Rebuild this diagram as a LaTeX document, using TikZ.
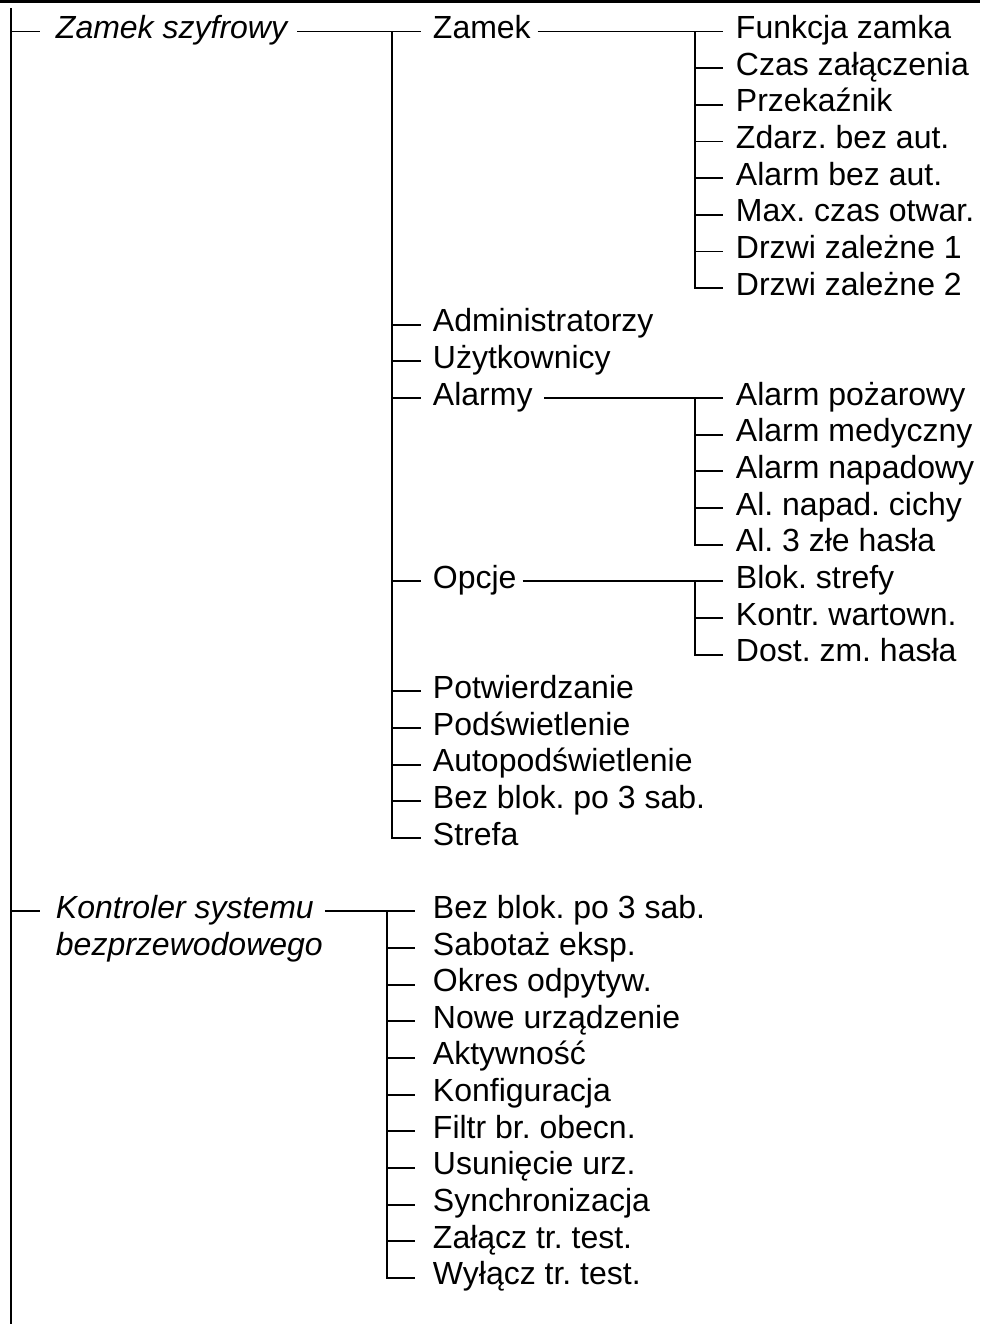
\documentclass[tikz,border=0pt]{standalone}
\usepackage{fontspec}
\setmainfont{Liberation Sans}
\frenchspacing
\begin{document}
\begin{tikzpicture}[x=1pt,y=1pt,line width=1.9pt,
  lbl/.style={anchor=base west,inner sep=0pt,text height=21pt,text depth=7pt,font=\fontsize{32}{36}\selectfont},
  itlbl/.style={lbl,font=\fontsize{32}{36}\selectfont\itshape}]
\useasboundingbox (0,0) rectangle (980,-1324);
\fill (0,0) rectangle (980,-3);
% level 1
\node[itlbl] (zs) at (55,-38.5) {Zamek szyfrowy};
\node[itlbl] (ks1) at (55,{-38.5-36.66*24}) {Kontroler systemu};
\node[itlbl] (ks2) at (55,{-38.5-36.66*25}) {bezprzewodowego};
\coordinate (top) at (11,-8);
\coordinate (bot) at (11,-1324);
\draw (top) -- (bot);
\draw (top |- zs.west) -- ([xshift=-15pt]zs.west);
\draw (top |- ks1.west) -- ([xshift=-15pt]ks1.west);
% level 2, Zamek szyfrowy
\foreach \n/\r/\t in {za/0/Zamek,ad/8/Administratorzy,uz/9/Użytkownicy,al/10/Alarmy,op/15/Opcje,pt/18/Potwierdzanie,pd/19/Podświetlenie,ap/20/Autopodświetlenie,bb/21/Bez blok. po 3 sab.,st/22/Strefa}
  \node[lbl] (\n) at (432,{-38.5-36.66*\r}) {\t};
\coordinate (v2) at (392,0);
\draw ([xshift=9pt]zs.east) -- ([xshift=-11pt]za.west);
\draw (v2 |- za.west) -- (v2 |- st.west) -- ([xshift=-11pt]st.west);
\foreach \n in {ad,uz,al,op,pt,pd,ap,bb}
  \draw (v2 |- \n.west) -- ([xshift=-11pt]\n.west);
% level 3
\coordinate (v3) at (695,0);
\foreach \n/\r/\t in {f1/0/Funkcja zamka,f2/1/Czas załączenia,f3/2/Przekaźnik,f4/3/Zdarz. bez aut.,f5/4/Alarm bez aut.,f6/5/Max. czas otwar.,f7/6/Drzwi zależne 1,f8/7/Drzwi zależne 2,
  a1/10/Alarm pożarowy,a2/11/Alarm medyczny,a3/12/Alarm napadowy,a4/13/Al. napad. cichy,a5/14/Al. 3 złe hasła,
  o1/15/Blok. strefy,o2/16/Kontr. wartown.,o3/17/Dost. zm. hasła}
  \node[lbl] (\n) at (735,{-38.5-36.66*\r}) {\t};
\draw ([xshift=6pt]za.east) -- ([xshift=-12pt]f1.west);
\draw (v3 |- f1.west) -- (v3 |- f8.west) -- ([xshift=-12pt]f8.west);
\foreach \n in {f2,f3,f4,f5,f6,f7}
  \draw (v3 |- \n.west) -- ([xshift=-12pt]\n.west);
\draw ([xshift=11pt]al.east) -- ([xshift=-12pt]a1.west);
\draw (v3 |- a1.west) -- (v3 |- a5.west) -- ([xshift=-12pt]a5.west);
\foreach \n in {a2,a3,a4}
  \draw (v3 |- \n.west) -- ([xshift=-12pt]\n.west);
\draw ([xshift=5pt]op.east) -- ([xshift=-12pt]o1.west);
\draw (v3 |- o1.west) -- (v3 |- o3.west) -- ([xshift=-12pt]o3.west);
\draw (v3 |- o2.west) -- ([xshift=-12pt]o2.west);
% level 2, Kontroler
\foreach \n/\r/\t in {k1/24/Bez blok. po 3 sab.,k2/25/Sabotaż eksp.,k3/26/Okres odpytyw.,k4/27/Nowe urządzenie,k5/28/Aktywność,k6/29/Konfiguracja,k7/30/Filtr br. obecn.,k8/31/Usunięcie urz.,k9/32/Synchronizacja,k10/33/Załącz tr. test.,k11/34/Wyłącz tr. test.}
  \node[lbl] (\n) at (432,{-38.5-36.66*\r}) {\t};
\coordinate (vk) at (387,0);
\draw ([xshift=10pt]ks1.east) -- ([xshift=-17pt]k1.west);
\draw (vk |- k1.west) -- (vk |- k11.west) -- ([xshift=-17pt]k11.west);
\foreach \n in {k2,k3,k4,k5,k6,k7,k8,k9,k10}
  \draw (vk |- \n.west) -- ([xshift=-17pt]\n.west);
\end{tikzpicture}
\end{document}
